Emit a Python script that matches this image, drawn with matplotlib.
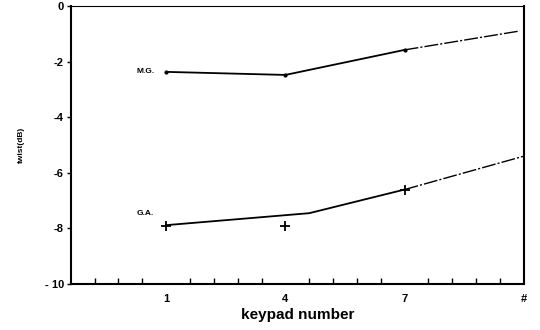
import numpy as np
import matplotlib
matplotlib.use('Agg')
import matplotlib.pyplot as plt

# data
keys = [1, 4, 7, 10]
key_labels = ['1', '4', '7', '#']

mg_x = [1, 4, 7, 9.9]
mg_y = [-2.37, -2.48, -1.58, -0.9]

ga_pts_x = [1, 4, 7]
ga_pts_y = [-7.9, -7.9, -6.6]
ga_fit_x = [1, 4.6, 7, 10]
ga_fit_y = [-7.88, -7.45, -6.6, -5.4]

plt.rcParams['font.family'] = ['Liberation Sans', 'DejaVu Sans']
plt.rcParams['font.weight'] = 'bold'

fig = plt.figure(figsize=(5.4, 3.3), dpi=100)
ax = fig.add_axes([0.131, 0.139, 0.839, 0.843])

# M.G. curve: solid up to 7, broken after
ax.plot(mg_x[:3], mg_y[:3], color='black', lw=1.3)
ax.plot(mg_x[2:], mg_y[2:], color='black', lw=1.0, dashes=(10, 1.5, 1.5, 1.5))
ax.plot(mg_x[:3], mg_y[:3], 'ko', ms=2)

# G.A. fit and points
ax.plot(ga_fit_x[:3], ga_fit_y[:3], color='black', lw=1.3)
ax.plot(ga_fit_x[2:], ga_fit_y[2:], color='black', lw=1.0, dashes=(10, 1.5, 1.5, 1.5))
ax.plot(ga_pts_x, ga_pts_y, 'k+', ms=7, mew=1.3)

ax.text(0.7, mg_y[0], 'M.G.', fontsize=6, fontweight='bold', ha='right', va='center')
ax.text(0.7, -7.6, 'G.A.', fontsize=6, fontweight='bold', ha='right', va='bottom')

ax.set_xlim(-1.4, 10)
ax.set_ylim(-10, 0)
ax.set_xticks(keys)
ax.set_xticklabels(key_labels)
ax.set_xticks(np.arange(-0.8, 10, 0.6), minor=True)
ax.set_yticks([0, -2, -4, -6, -8, -10])
ax.set_yticklabels(['0', '-2', '-4', '-6', '-8', '- 10'])
ax.tick_params(axis='x', which='major', length=0, labelsize=8, pad=7)
ax.tick_params(axis='x', which='minor', direction='in', length=4, width=1)
ax.tick_params(axis='y', direction='out', length=3, width=1, labelsize=8, pad=2)

for s in ['left', 'bottom', 'right']:
    ax.spines[s].set_linewidth(1.5)
ax.spines['top'].set_linewidth(0.8)

ax.set_xlabel('keypad number', fontsize=11, fontweight='bold', labelpad=3)
ax.set_ylabel('twist(dB)', fontsize=6, fontweight='bold', labelpad=14)

fig.savefig('out.png', dpi=100)
